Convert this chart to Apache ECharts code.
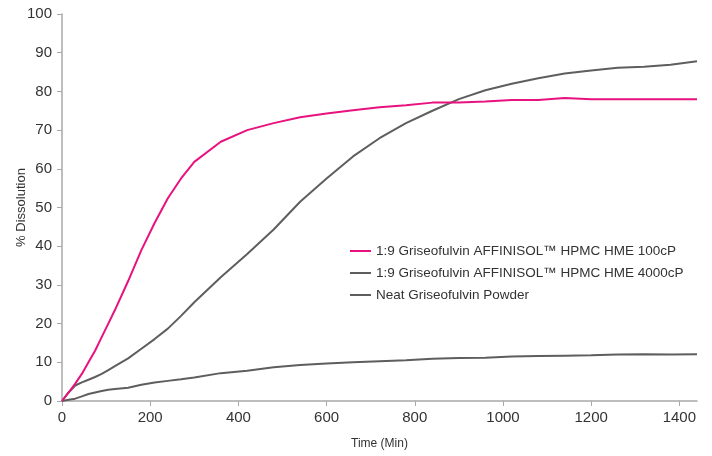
<!DOCTYPE html>
<html>
<head>
<meta charset="utf-8">
<script src="https://cdn.jsdelivr.net/npm/echarts@6/dist/echarts.min.js"></script>
<style>
  html, body { margin: 0; padding: 0; background: #fff; }
  #chart { width: 712px; height: 456px; }
</style>
</head>
<body>
<div id="chart"></div>
<script>
// Dissolution profiles: time (min) vs. % dissolved
const times = [0, 15, 30, 45, 60, 75, 90, 105, 120, 150, 180, 210, 240, 270, 300, 360, 420, 480, 540, 600, 660, 720, 780, 840, 900, 960, 1020, 1080, 1140, 1200, 1260, 1320, 1380, 1440];

const hme100cP = [0, 2.2, 4.5, 7, 10, 13, 16.5, 20, 23.5, 31, 39, 46, 52.4, 57.5, 61.8, 67, 70, 71.8, 73.3, 74.3, 75.1, 75.9, 76.4, 77.1, 77.1, 77.4, 77.8, 77.8, 78.3, 78, 78, 78, 78, 78];

const hme4000cP = [0, 2.2, 4, 4.8, 5.5, 6.2, 7, 8, 9, 11, 13.5, 16, 18.7, 22, 25.5, 32, 38, 44.3, 51.5, 57.5, 63.2, 67.9, 71.8, 75, 78, 80.3, 82, 83.4, 84.6, 85.4, 86.1, 86.4, 86.9, 87.8];

const neatPowder = [0, 0.3, 0.6, 1.2, 1.8, 2.2, 2.6, 2.9, 3.1, 3.4, 4.2, 4.8, 5.2, 5.6, 6.1, 7.2, 7.8, 8.7, 9.3, 9.7, 10, 10.3, 10.5, 10.9, 11.1, 11.2, 11.5, 11.6, 11.7, 11.8, 12, 12.1, 12, 12.1];

const seriesNames = [
  '1:9 Griseofulvin AFFINISOL\u2122 HPMC HME 100cP',
  '1:9 Griseofulvin AFFINISOL\u2122 HPMC HME 4000cP',
  'Neat Griseofulvin Powder'
];

const xTicks = [0, 200, 400, 600, 800, 1000, 1200, 1400];

const pair = (ys) => times.map((t, i) => [t, ys[i]]);

const font = 'Liberation Sans, Arial, sans-serif';
const axisColor = '#a8a8a8';
const textColor = '#333';

const chart = echarts.init(document.getElementById('chart'), null, { renderer: 'canvas' });

chart.setOption({
  animation: false,
  textStyle: { fontFamily: font },
  grid: { left: 62, right: 15, top: 14, bottom: 55, containLabel: false, outerBoundsMode: 'none' },
  legend: {
    orient: 'vertical',
    left: 345,
    top: 239,
    itemGap: 8,
    itemWidth: 21,
    itemHeight: 2,
    icon: 'rect',
    textStyle: { fontFamily: font, fontSize: 13.5, color: textColor },
    data: seriesNames
  },
  xAxis: {
    type: 'value',
    min: 0,
    max: 1440,
    interval: 200,
    name: 'Time (Min)',
    nameLocation: 'middle',
    nameGap: 37,
    nameMoveOverlap: false,
    nameTextStyle: { fontFamily: font, fontSize: 12, color: textColor },
    axisLine: { show: true, lineStyle: { color: axisColor, width: 1.5 } },
    axisTick: { show: true, length: 5, lineStyle: { color: axisColor, width: 1 }, customValues: xTicks },
    axisLabel: {
      fontFamily: font, fontSize: 15, color: textColor, margin: 9,
      customValues: xTicks,
      formatter: (v) => String(v)
    },
    splitLine: { show: false }
  },
  yAxis: {
    type: 'value',
    min: 0,
    max: 100,
    interval: 10,
    name: '% Dissolution',
    nameLocation: 'middle',
    nameGap: 34,
    nameMoveOverlap: false,
    nameRotate: 90,
    nameTextStyle: { fontFamily: font, fontSize: 13, color: textColor },
    axisLine: { show: true, lineStyle: { color: axisColor, width: 1.5 } },
    axisTick: { show: true, length: 5, lineStyle: { color: axisColor, width: 1 } },
    axisLabel: { fontFamily: font, fontSize: 15, color: textColor, margin: 10 },
    splitLine: { show: false }
  },
  series: [
    {
      name: seriesNames[0],
      type: 'line',
      data: pair(hme100cP),
      showSymbol: false,
      color: '#e8127f',
      lineStyle: { width: 2, color: '#e8127f' },
      z: 3
    },
    {
      name: seriesNames[1],
      type: 'line',
      data: pair(hme4000cP),
      showSymbol: false,
      color: '#5e5e5e',
      lineStyle: { width: 2, color: '#5e5e5e' },
      z: 2
    },
    {
      name: seriesNames[2],
      type: 'line',
      data: pair(neatPowder),
      showSymbol: false,
      color: '#5e5e5e',
      lineStyle: { width: 2, color: '#5e5e5e' },
      z: 2
    }
  ]
});
</script>
</body>
</html>
